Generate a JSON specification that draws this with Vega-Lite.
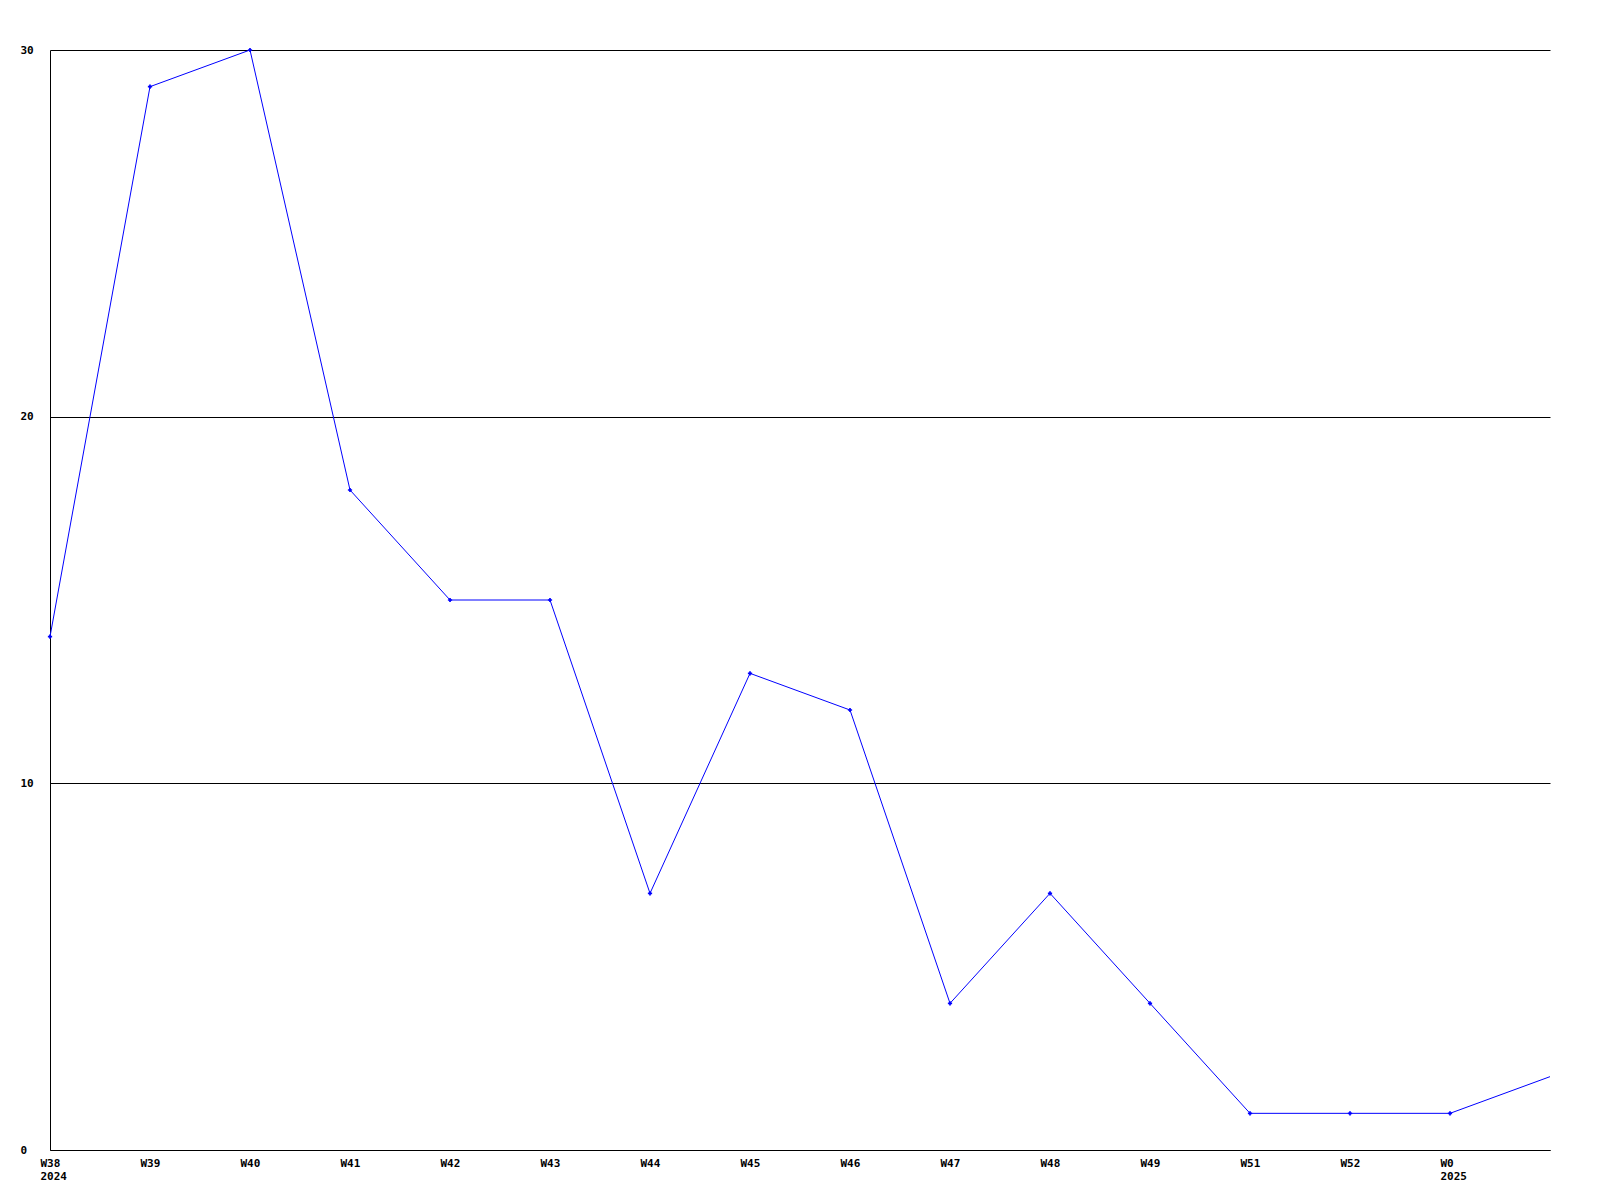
{
  "$schema": "https://vega.github.io/schema/vega-lite/v6.json",
  "autosize": "none",
  "padding": {"left": 50, "top": 50, "right": 50, "bottom": 50},
  "width": 1500,
  "height": 1100,
  "background": "white",
  "config": {
    "view": {"stroke": null},
    "axis": {
      "labelFont": "DejaVu Sans Mono",
      "labelFontWeight": "bold",
      "labelFontSize": 11,
      "labelColor": "black",
      "domainColor": "black",
      "gridColor": "black",
      "gridOpacity": 1,
      "ticks": false,
      "title": null
    }
  },
  "data": {
    "values": [
      {"week": "W38", "count": 14},
      {"week": "W39", "count": 29},
      {"week": "W40", "count": 30},
      {"week": "W41", "count": 18},
      {"week": "W42", "count": 15},
      {"week": "W43", "count": 15},
      {"week": "W44", "count": 7},
      {"week": "W45", "count": 13},
      {"week": "W46", "count": 12},
      {"week": "W47", "count": 4},
      {"week": "W48", "count": 7},
      {"week": "W49", "count": 4},
      {"week": "W51", "count": 1},
      {"week": "W52", "count": 1},
      {"week": "W0", "count": 1},
      {"week": "W1", "count": 2}
    ]
  },
  "encoding": {
    "x": {
      "field": "week",
      "type": "ordinal",
      "sort": null,
      "scale": {"type": "point", "padding": 0},
      "axis": {
        "labelAngle": 0,
        "labelAlign": "left",
        "labelBaseline": "top",
        "labelOffset": -10,
        "labelPadding": 7,
        "labelLineHeight": 13,
        "labelOverlap": false,
        "labelBound": false,
        "labelFlush": false,
        "grid": false,
        "labelExpr": "datum.value == 'W38' ? ['W38', '2024'] : datum.value == 'W0' ? ['W0', '2025'] : datum.value == 'W1' ? '' : datum.value"
      }
    },
    "y": {
      "field": "count",
      "type": "quantitative",
      "scale": {"domain": [0, 30], "nice": false, "zero": true},
      "axis": {
        "values": [0, 10, 20, 30],
        "labelAlign": "left",
        "labelBaseline": "middle",
        "labelPadding": 30,
        "grid": true
      }
    }
  },
  "layer": [
    {"mark": {"type": "line", "color": "#0000ff", "strokeWidth": 1}},
    {
      "transform": [{"filter": "datum.week != 'W1'"}],
      "mark": {"type": "point", "shape": "cross", "size": 18, "filled": true, "color": "#0000ff", "opacity": 1}
    }
  ]
}
